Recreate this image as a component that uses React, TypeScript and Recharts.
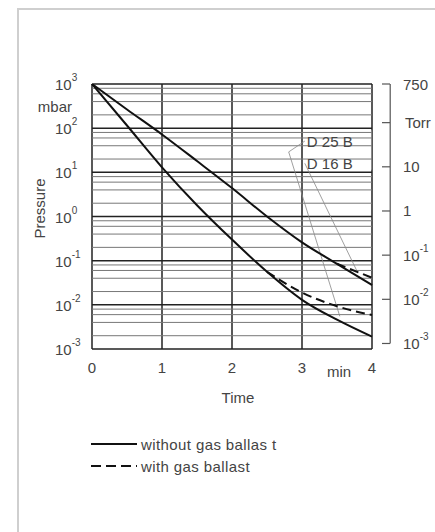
import React from "react";
import {
  LineChart,
  Line,
  XAxis,
  YAxis,
  CartesianGrid,
  ReferenceLine,
  ReferenceArea,
  ReferenceDot,
} from "recharts";

// time in minutes
const time = [0, 0.5, 1, 1.5, 2, 2.5, 3, 3.5, 4];
// pressure in mbar
const d16Without = [1000, 265, 72, 18, 4.4, 1.0, 0.26, 0.085, 0.028];
const d25Without = [1000, 115, 13, 1.8, 0.3, 0.056, 0.013, 0.0046, 0.0019];
const d16With = [null, null, null, null, null, null, null, 0.085, 0.041];
const d25With = [null, null, null, null, null, 0.056, 0.019, 0.0093, 0.0059];

const xTicks = [0, 1, 2, 3, 4];
const mbarTicks = [0.001, 0.01, 0.1, 1, 10, 100, 1000];
const torrTicks = [750, 100, 10, 1, 0.1, 0.01, 0.001];
const torrLabels: Record<number, string> = { 750: "750", 100: "Torr", 10: "10", 1: "1" };

// thin grid lines at 2, 4, 6, 8 in every decade
const minorLines: number[] = [];
for (let d = -3; d < 3; d++) {
  for (const m of [2, 4, 6, 8]) minorLines.push(m * Math.pow(10, d));
}

const data = time.map((t, i) => ({
  t,
  d16: d16Without[i],
  d25: d25Without[i],
  d16gb: d16With[i],
  d25gb: d25With[i],
}));

const FONT = "'Liberation Sans', Arial, sans-serif";
const TXT = "#444";

const Pow = ({ x, y, exp, anchor }: any) => (
  <text x={x} y={y} textAnchor={anchor} dominantBaseline="central" fontFamily={FONT} fontSize={15} fill={TXT}>
    <tspan>10</tspan>
    <tspan dy={-7} fontSize={10}>{exp}</tspan>
  </text>
);

const LeftTick = ({ x, y, payload }: any) => {
  const exp = Math.round(Math.log10(payload.value));
  return (
    <g>
      <Pow x={x - 37} y={y} exp={exp} anchor="start" />
      {exp === 3 && (
        <text x={x - 20} y={y + 22} textAnchor="end" dominantBaseline="central" fontFamily={FONT} fontSize={15} fill={TXT}>
          mbar
        </text>
      )}
    </g>
  );
};

const RightTick = ({ x, y, payload }: any) => {
  const v = payload.value;
  const lbl = torrLabels[v];
  return (
    <g>
      <line x1={x + 10} x2={x + 18} y1={y} y2={y} stroke="#555" strokeWidth={1.2} />
      {lbl ? (
        <text x={x + (v === 100 ? 33 : 31)} y={y} dominantBaseline="central" fontFamily={FONT} fontSize={15} fill={TXT}>
          {lbl}
        </text>
      ) : (
        <Pow x={x + 31} y={y} exp={Math.round(Math.log10(v))} anchor="start" />
      )}
    </g>
  );
};

const BottomTick = ({ x, y, payload }: any) => (
  <g>
    <text x={x} y={y + 18} textAnchor="middle" dominantBaseline="central" fontFamily={FONT} fontSize={15} fill={TXT}>
      {payload.value}
    </text>
    {payload.value === 4 && (
      <text x={x - 33} y={y + 22} textAnchor="middle" dominantBaseline="central" fontFamily={FONT} fontSize={15} fill={TXT}>
        min
      </text>
    )}
  </g>
);

const NameLabel = (text: string) => ({ x, y }: any) => (
  <text x={x + 2} y={y} dominantBaseline="central" fontFamily={FONT} fontSize={15} fill={TXT}>
    {text}
  </text>
);

function LegendBox() {
  const row = (dash: string | undefined, text: string) => (
    <div style={{ display: "flex", alignItems: "center", height: 22 }}>
      <svg width={50} height={10}>
        <line x1={0} x2={46} y1={5} y2={5} stroke="#111" strokeWidth={2} strokeDasharray={dash} />
      </svg>
      <span style={{ fontFamily: FONT, fontSize: 15, color: TXT, letterSpacing: 0.4 }}>{text}</span>
    </div>
  );
  return (
    <div style={{ position: "absolute", left: 91, top: 433 }}>
      {row(undefined, "without gas ballas t")}
      {row("10 5", "with gas ballast")}
    </div>
  );
}

export default function App() {
  return (
    <div style={{ position: "absolute", left: 0, top: 0, width: 435, height: 532, overflow: "hidden", background: "#fff" }}>
      <div
        style={{
          position: "absolute",
          left: 17,
          top: 8,
          width: 430,
          height: 540,
          borderLeft: "2px solid #cfcfcf",
          borderTop: "2px solid #cfcfcf",
        }}
      />
      <LineChart width={435} height={532} data={data} margin={{ top: 84, right: 0, bottom: 153, left: 0 }}>
        <XAxis
          dataKey="t"
          type="number"
          domain={[0, 4]}
          ticks={xTicks}
          axisLine={false}
          tickLine={false}
          tickSize={0}
          tickMargin={0}
          height={30}
          tick={<BottomTick />}
          label={({ viewBox }: any) => (
            <text x={viewBox.x + viewBox.width / 2 + 6} y={viewBox.y + 48} textAnchor="middle" dominantBaseline="central" fontFamily={FONT} fontSize={15} fill={TXT}>
              Time
            </text>
          )}
        />
        <YAxis
          yAxisId="mbar"
          type="number"
          scale="log"
          domain={[0.001, 1000]}
          allowDataOverflow
          ticks={mbarTicks}
          axisLine={false}
          tickLine={false}
          tickSize={0}
          tickMargin={0}
          width={92}
          tick={<LeftTick />}
          label={({ viewBox }: any) => (
            <text
              x={viewBox.x + 39}
              y={viewBox.y + viewBox.height / 2 - 8}
              transform={`rotate(-90 ${viewBox.x + 39} ${viewBox.y + viewBox.height / 2 - 8})`}
              textAnchor="middle"
              dominantBaseline="central"
              fontFamily={FONT}
              fontSize={15}
              fill={TXT}
            >
              Pressure
            </text>
          )}
        />
        <YAxis
          yAxisId="torr"
          orientation="right"
          type="number"
          scale="log"
          domain={[0.00075, 750]}
          allowDataOverflow
          ticks={torrTicks}
          axisLine={false}
          tickLine={false}
          tickSize={0}
          tickMargin={0}
          width={63}
          tick={<RightTick />}
        />
        {minorLines.map((v) => (
          <ReferenceLine key={v} yAxisId="mbar" y={v} stroke="#777" strokeWidth={1} />
        ))}
        <ReferenceArea yAxisId="mbar" x1={3.04} x2={3.99} y1={11.5} y2={90} fill="#fff" fillOpacity={1} stroke="none" />
        <CartesianGrid yAxisId="mbar" stroke="#222" strokeWidth={1.5} />
        <ReferenceLine
          yAxisId="torr"
          segment={[{ x: 4.26, y: 750 }, { x: 4.26, y: 0.001 }]}
          stroke="#555"
          strokeWidth={1.2}
          ifOverflow="visible"
        />
        <ReferenceLine yAxisId="mbar" segment={[{ x: 3.04, y: 51 }, { x: 2.81, y: 29 }]} stroke="#888" strokeWidth={0.8} ifOverflow="visible" />
        <ReferenceLine yAxisId="mbar" segment={[{ x: 2.81, y: 29 }, { x: 3.54, y: 0.0055 }]} stroke="#888" strokeWidth={0.8} ifOverflow="visible" />
        <ReferenceLine yAxisId="mbar" segment={[{ x: 3.04, y: 16 }, { x: 3.8, y: 0.052 }]} stroke="#888" strokeWidth={0.8} ifOverflow="visible" />
        <ReferenceDot yAxisId="mbar" x={3.04} y={51} r={0} ifOverflow="visible" label={NameLabel("D 25 B")} />
        <ReferenceDot yAxisId="mbar" x={3.04} y={16} r={0} ifOverflow="visible" label={NameLabel("D 16 B")} />
        <Line yAxisId="mbar" dataKey="d16" type="monotone" stroke="#111" strokeWidth={2} dot={false} isAnimationActive={false} />
        <Line yAxisId="mbar" dataKey="d25" type="monotone" stroke="#111" strokeWidth={2} dot={false} isAnimationActive={false} />
        <Line yAxisId="mbar" dataKey="d16gb" type="monotone" stroke="#111" strokeWidth={2} strokeDasharray="9 5" dot={false} isAnimationActive={false} />
        <Line yAxisId="mbar" dataKey="d25gb" type="monotone" stroke="#111" strokeWidth={2} strokeDasharray="9 5" dot={false} isAnimationActive={false} />
      </LineChart>
      <LegendBox />
    </div>
  );
}
